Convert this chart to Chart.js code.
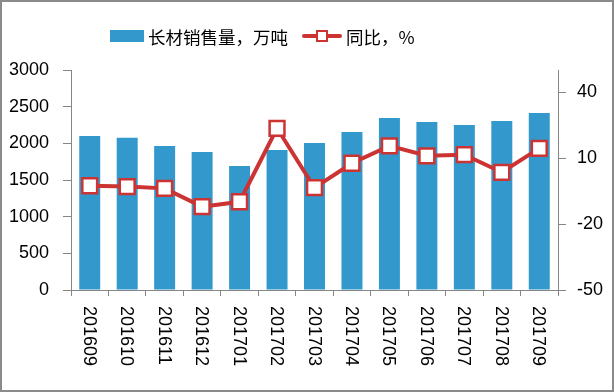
<!DOCTYPE html>
<html><head><meta charset="utf-8">
<script src="https://cdn.jsdelivr.net/npm/chart.js@4/dist/chart.umd.min.js"></script>
<style>
html,body{margin:0;padding:0;background:#fff;}
#wrap{width:614px;height:392px;box-sizing:border-box;border:2px solid #8a8a8a;background:#fff;}
canvas{display:block;}
</style></head>
<body><div id="wrap"><canvas id="c" width="610" height="388"></canvas></div>
<script>
const categories = ['201609','201610','201611','201612','201701','201702','201703','201704','201705','201706','201707','201708','201709'];
const salesValues = [2100,2075,1965,1882,1692,1910,2005,2155,2345,2290,2250,2305,2415];
const yoyValues = [-2.6,-3.0,-3.8,-12.1,-9.9,23.5,-3.5,7.6,15.5,11.0,11.5,3.5,14.4];
const leftTicks = [0,500,1000,1500,2000,2500,3000];
const rightTicks = [-50,-20,10,40];
const barLabel = '长材销售量，万吨';
const lineLabel = '同比，%';

const BAR = '#3399cc', RED = '#cc3333', AXIS = '#868686';
const NUMFONT = '"Liberation Sans", Arial, sans-serif';
const CJKFONT = '"Noto Sans CJK SC", "Liberation Sans", sans-serif';

const customDraw = {
  id: 'customDraw',
  afterDraw(chart) {
    const ctx = chart.ctx;
    const xs = chart.scales.x;
    ctx.save();
    ctx.fillStyle = '#000';
    ctx.font = '18px ' + NUMFONT;
    ctx.textAlign = 'left';
    ctx.textBaseline = 'middle';
    categories.forEach((lab, i) => {
      const x = xs.getPixelForValue(i);
      ctx.save();
      ctx.translate(x - 1, xs.top + 16);
      ctx.rotate(Math.PI / 2);
      ctx.fillText(lab, 0, 0);
      ctx.restore();
    });
    ctx.restore();
    ctx.save();
    const cy = 34;
    let x = 108;
    ctx.fillStyle = BAR;
    ctx.fillRect(x, cy - 6, 34, 12);
    x += 38;
    ctx.font = '17.5px ' + CJKFONT;
    ctx.fillStyle = '#000';
    ctx.textBaseline = 'middle';
    ctx.textAlign = 'left';
    ctx.fillText(barLabel, x, cy + 1);
    x += ctx.measureText(barLabel).width + 16;
    ctx.strokeStyle = RED;
    ctx.lineWidth = 4;
    ctx.lineCap = 'round';
    ctx.beginPath(); ctx.moveTo(x, cy); ctx.lineTo(x + 36, cy); ctx.stroke();
    ctx.fillStyle = '#fff';
    ctx.lineWidth = 2;
    ctx.fillRect(x + 13, cy - 5, 10, 10);
    ctx.strokeRect(x + 13, cy - 5, 10, 10);
    x += 42;
    ctx.fillStyle = '#000';
    ctx.fillText(lineLabel, x, cy + 1);
    ctx.restore();
  }
};

new Chart(document.getElementById('c'), {
  data: {
    labels: categories,
    datasets: [
      {
        type: 'line', label: lineLabel, data: yoyValues, yAxisID: 'y1', order: 0,
        borderColor: RED, borderWidth: 4, tension: 0,
        pointStyle: 'rect', pointRadius: 10.5, pointBorderWidth: 2.5,
        pointBackgroundColor: '#fff', pointBorderColor: RED
      },
      {
        type: 'bar', label: barLabel, data: salesValues, yAxisID: 'y', order: 1,
        backgroundColor: BAR, barPercentage: 0.56, categoryPercentage: 1.0
      }
    ]
  },
  options: {
    responsive: false, animation: false, devicePixelRatio: 1,
    layout: { padding: { top: 68, left: 0, right: 0, bottom: 0 } },
    plugins: { legend: { display: false }, tooltip: { enabled: false } },
    scales: {
      x: {
        offset: true,
        grid: { display: true, offset: true, drawOnChartArea: false, drawTicks: true, tickLength: 6, color: AXIS },
        border: { color: AXIS, width: 1 },
        ticks: { callback: () => '' },
        afterFit: s => { s.height = 100; }
      },
      y: {
        position: 'left', min: 0, max: 3000,
        afterBuildTicks: s => { s.ticks = leftTicks.map(v => ({ value: v })); },
        grid: { display: true, drawOnChartArea: false, drawTicks: true, tickLength: 8, color: AXIS },
        border: { color: AXIS, width: 1 },
        ticks: { color: '#000', font: { size: 18, family: NUMFONT }, padding: 14, callback: v => String(v) },
        afterFit: s => { s.width = 69; }
      },
      y1: {
        position: 'right', min: -50, max: 50,
        afterBuildTicks: s => { s.ticks = rightTicks.map(v => ({ value: v })); },
        grid: { display: true, drawOnChartArea: false, drawTicks: true, tickLength: 8, color: AXIS },
        border: { color: AXIS, width: 1 },
        ticks: { color: '#000', font: { size: 18, family: NUMFONT }, padding: 11, callback: v => String(v) },
        afterFit: s => { s.width = 54; }
      }
    }
  },
  plugins: [customDraw]
});
</script></body></html>
